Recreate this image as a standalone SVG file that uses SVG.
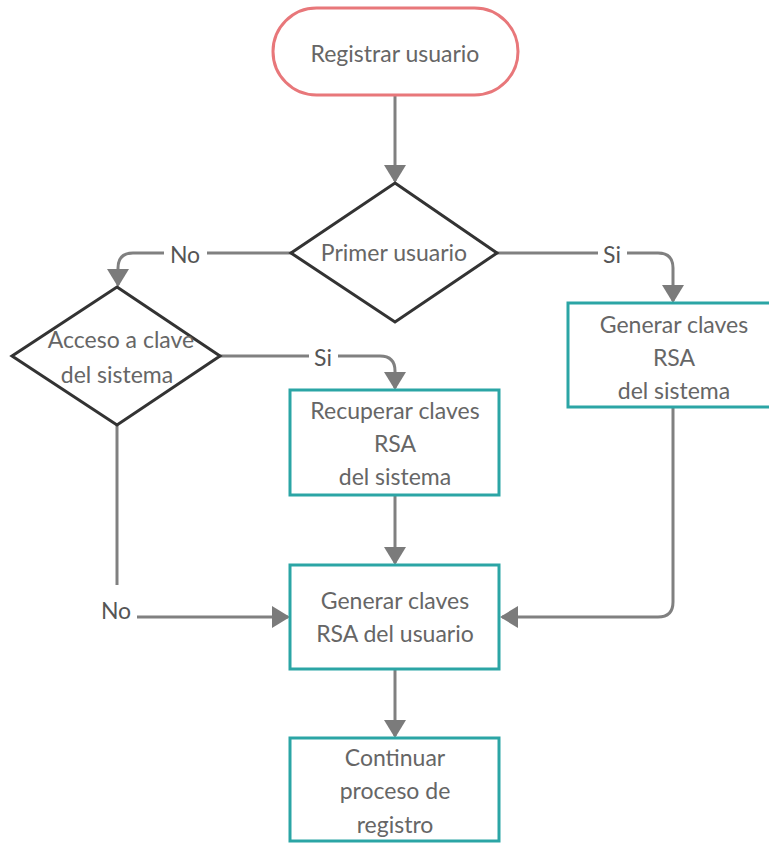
<svg xmlns="http://www.w3.org/2000/svg" width="769" height="843" viewBox="0 0 769 843">
<defs>
<marker id="arr" viewBox="0 0 18 22" refX="16" refY="11" markerWidth="18" markerHeight="22" orient="auto" markerUnits="userSpaceOnUse">
<path d="M0,0 L18,11 L0,22 z" fill="#7b7b7b"/>
</marker>
</defs>
<style>
.t{font-family:Lato,"Liberation Sans",sans-serif;font-size:23px;fill:#666666;text-anchor:middle}
.lbl{font-family:Lato,"Liberation Sans",sans-serif;font-size:23px;fill:#555555;text-anchor:middle}
.c{fill:none;stroke:#808080;stroke-width:3}
.box{fill:#ffffff;stroke:#2ba5a5;stroke-width:3}
.dia{fill:#ffffff;stroke:#333333;stroke-width:3;stroke-linejoin:miter}
.bg{fill:#ffffff}
</style>
<rect width="769" height="843" fill="#ffffff"/>
<g id="connectors">
<path class="c" d="M395,95 V181" marker-end="url(#arr)"/>
<path class="c" d="M291,253 H133 Q118,253 118,268 V285" marker-end="url(#arr)"/>
<path class="c" d="M497,253 H658 Q673,253 673,268 V301" marker-end="url(#arr)"/>
<path class="c" d="M220,356 H380 Q395,356 395,371 V388" marker-end="url(#arr)"/>
<path class="c" d="M395,495 V563" marker-end="url(#arr)"/>
<path class="c" d="M673,407 V602 Q673,617 658,617 H502" marker-end="url(#arr)"/>
<path class="c" d="M117,425 V585"/>
<path class="c" d="M137,617 H288" marker-end="url(#arr)"/>
<path class="c" d="M395,669 V736" marker-end="url(#arr)"/>
<rect class="bg" x="164" y="238" width="43" height="30"/>
<text class="lbl" x="185" y="263">No</text>
<rect class="bg" x="598" y="238" width="29" height="30"/>
<text class="lbl" x="612" y="263">Si</text>
<rect class="bg" x="309" y="341" width="29" height="30"/>
<text class="lbl" x="323" y="366">Si</text>
<text class="lbl" x="116" y="619">No</text>
</g>
<g id="start">
<rect x="273" y="8" width="245" height="87" rx="43.5" ry="43.5" fill="#ffffff" stroke="#e8777a" stroke-width="3"/>
<text class="t" x="395" y="62">Registrar usuario</text>
</g>
<g id="primer-usuario">
<polygon class="dia" points="395,183 497,253 395,322 291,253"/>
<text class="t" x="394" y="261">Primer usuario</text>
</g>
<g id="acceso-clave">
<polygon class="dia" points="117,287 220,356 117,425 12,356"/>
<text class="t" x="121" y="348">Acceso a clave</text>
<text class="t" x="117" y="383">del sistema</text>
</g>
<g id="generar-sistema">
<rect class="box" x="568" y="303" width="211" height="104"/>
<text class="t" x="674" y="333">Generar claves</text>
<text class="t" x="674" y="366">RSA</text>
<text class="t" x="674" y="399">del sistema</text>
</g>
<g id="recuperar">
<rect class="box" x="290" y="390" width="209" height="105"/>
<text class="t" x="395" y="419">Recuperar claves</text>
<text class="t" x="395" y="452">RSA</text>
<text class="t" x="395" y="485">del sistema</text>
</g>
<g id="generar-usuario">
<rect class="box" x="290" y="565" width="209" height="104"/>
<text class="t" x="395" y="609">Generar claves</text>
<text class="t" x="395" y="642">RSA del usuario</text>
</g>
<g id="continuar">
<rect class="box" x="290" y="738" width="209" height="103"/>
<text class="t" x="395" y="766">Continuar</text>
<text class="t" x="395" y="799">proceso de</text>
<text class="t" x="395" y="833">registro</text>
</g>
</svg>
